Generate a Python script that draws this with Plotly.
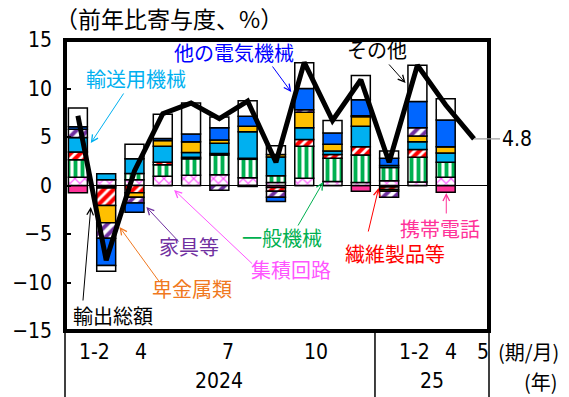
import plotly.graph_objects as go

# periods (2024/1-2 ... 2025/5); May 2025 has the total only
months = ["1-2", "3", "4", "5", "6", "7", "8", "9", "10", "11", "12", "1-2", "3", "4", "5"]
years = ["2024"] * 11 + ["25"] * 4
shown_months = ["1-2", "4", "7", "10", "1-2", "4", "5"]
shown_idx = [0, 2, 5, 8, 11, 13, 14]

# contribution to y/y change (% pt), Jan-Feb 2024 .. Apr 2025
mobile = [-0.75, -0.1, 0, 0, 0, 0, 0, -0.2, 0, 0, -0.6, -0.15, 0, -0.7]
ic = [0.85, 0.6, 0.6, 0.95, 1.05, 1.1, 0.8, 0.3, 0.75, 0.4, 0.3, 0.5, 0.35, 0.85]
general_mach = [1.8, -0.15, 0.65, 1.2, 1.7, 2.05, 1.9, 0.7, 3.3, 2.4, 2.85, 1.35, 2.55, 1.55]
textiles = [0.8, -1.8, -0.75, 0.25, 0.15, 0.15, 0.1, -0.4, 0.7, 0.4, 0.85, -0.25, 0.8, 0]
transport = [1.5, 0.6, 1.5, 1.65, 0.5, 1.05, 2.75, 1.95, 1.2, 0.35, 2.1, 0.2, 0.8, 0.95]
base_metals = [0, -1.8, -0.45, 0.6, 1.1, 0.35, 0.55, 0.25, 1.6, 0.7, 1.0, -0.2, 0.6, 0.65]
furniture = [0.85, -1.6, -0.6, 0, 0, -0.5, -0.1, -0.6, 0.25, 0, 0.1, -0.6, 0.85, 0]
other_elec = [0.25, -2.8, -0.95, 0.2, 0.8, 1.25, 1.05, -0.45, 2.2, 1.15, 1.65, 0.75, 2.7, 2.75]
others = [1.95, -0.6, 1.5, 2.5, 3.2, 1.1, 1.6, 0.9, 2.65, 1.3, 2.5, 0.75, 3.75, 2.2]
total = [7.2, -7.7, 1.5, 7.4, 8.5, 6.9, 8.7, 2.4, 12.7, 6.7, 10.9, 2.4, 12.4, 8.3, 4.8]

x = list(range(len(months)))
xb = x[:len(ic)]

JP = "Noto Sans CJK JP"
NUM = "DejaVu Sans Condensed, Noto Sans CJK JP"

fig = go.Figure()

def add_bar(name, vals, color, shape="", fg=None, size=6, solidity=0.5):
    pat = dict(shape=shape)
    if shape:
        pat.update(fgcolor=fg, bgcolor="white", size=size, solidity=solidity, fgopacity=1)
    fig.add_trace(go.Bar(
        x=xb, y=vals, name=name, width=0.67,
        marker=dict(color=color, line=dict(color="black", width=1.5), pattern=pat),
    ))

add_bar("携帯電話", mobile, "#FF3399")
add_bar("集積回路", ic, "white", "x", "#FF44FF", 7, 0.3)
add_bar("一般機械", general_mach, "white", "|", "#00B050", 7, 0.55)
add_bar("繊維製品等", textiles, "white", "/", "#FF0000", 7, 0.6)
add_bar("輸送用機械", transport, "#00B0F0")
add_bar("卑金属類", base_metals, "#FFC000")
add_bar("家具等", furniture, "white", "/", "#7030A0", 8, 0.5)
add_bar("他の電気機械", other_elec, "#0066FF")
add_bar("その他", others, "white")

fig.add_trace(go.Scatter(x=x, y=total, mode="lines", name="輸出総額",
                         line=dict(color="black", width=5)))

# labels with arrows: text centre (x, y), arrow head, arrow tail
labels = [
    ("輸送用機械", "#00B0F0", (2.07, 11.08), (0.456, 4.38), (1.65, 9.64)),
    ("他の電気機械", "#0000FF", (5.51, 13.76), (7.54, 9.64), (6.84, 12.42)),
    ("その他", "black", (10.56, 13.97), (11.58, 10.57), (10.95, 12.63)),
    ("一般機械", "#00B050", (7.23, -5.41), (8.67, 0.36), (7.75, -4.28)),
    ("繊維製品等", "#FF0000", (11.19, -7.06), (10.63, -0.26), (10.25, -4.90)),
    ("携帯電話", "#FF3399", (12.81, -4.48), (13.02, -0.77), (13.02, -3.04)),
    ("集積回路", "#FF55FF", (7.54, -8.61), (3.40, -0.46), (6.21, -8.20)),
    ("家具等", "#7030A0", (3.93, -6.24), (2.42, -2.22), (3.61, -5.93)),
    ("卑金属類", "#F07820", (4.04, -10.57), (1.47, -4.28), (2.91, -10.05)),
    ("輸出総額", "black", (1.23, -13.45), (0.456, -2.22), (0.175, -12.01)),
]
ann = []
for txt, col, tpos, head, tail in labels:
    ann.append(dict(x=tpos[0], y=tpos[1], xref="x", yref="y", text=txt, showarrow=False,
                    xanchor="center", yanchor="middle",
                    font=dict(family=JP, size=20, color=col)))
    ann.append(dict(x=head[0], y=head[1], xref="x", yref="y", ax=tail[0], ay=tail[1],
                    axref="x", ayref="y", text="", showarrow=True, arrowhead=5,
                    arrowsize=1.3, arrowwidth=1, arrowcolor=col))

# last value label
ann.append(dict(x=x[-1], y=total[-1], xref="x", yref="y", text=f"{total[-1]:.1f}",
                showarrow=True, arrowhead=0, arrowwidth=1.2, arrowcolor="#A0A0A0",
                ax=26, ay=0, xanchor="left", font=dict(family=NUM, size=21, color="black")))

# month / year labels
month_shift = [17, 7, 9, 12, 25, 5, 9]
for lab, i, s in zip(shown_months, shown_idx, month_shift):
    ann.append(dict(x=i, y=-0.072, xref="x", yref="paper", text=lab, showarrow=False,
                    xshift=s, xanchor="center", yanchor="middle",
                    font=dict(family=NUM, size=21, color="black")))
for yr in ["2024", "25"]:
    idx = [i for i, v in enumerate(years) if v == yr]
    ann.append(dict(x=(idx[0] + idx[-1]) / 2, y=-0.172, xref="x", yref="paper", text=yr,
                    showarrow=False, xanchor="center", yanchor="middle",
                    font=dict(family=NUM, size=21, color="black")))
ann.append(dict(x=1.094, y=-0.072, xref="paper", yref="paper", text="(期/月)", showarrow=False,
                xanchor="center", yanchor="middle", font=dict(family=JP, size=20, color="black")))
ann.append(dict(x=1.122, y=-0.172, xref="paper", yref="paper", text="(年)", showarrow=False,
                xanchor="center", yanchor="middle", font=dict(family=JP, size=20, color="black")))
ann.append(dict(x=0.0, y=1.076, xref="paper", yref="paper", text="（前年比寄与度、%）",
                showarrow=False, xanchor="left", yanchor="middle", xshift=-12,
                font=dict(family=JP, size=23, color="black")))

split = years.index("25") - 0.5
shapes = [
    dict(type="rect", xref="paper", yref="paper", x0=0, x1=1, y0=0, y1=1,
         line=dict(color="black", width=4), layer="above"),
    dict(type="line", xref="paper", yref="paper", x0=0, x1=0, y0=0, y1=-0.23,
         line=dict(color="black", width=1.5)),
    dict(type="line", xref="paper", yref="paper", x0=1, x1=1, y0=0, y1=-0.23,
         line=dict(color="black", width=1.5)),
    dict(type="line", xref="x", yref="paper", x0=split, x1=split, y0=0, y1=-0.23,
         line=dict(color="black", width=1.5)),
]

fig.update_layout(
    barmode="relative",
    width=569, height=397,
    margin=dict(l=62, r=80, t=40, b=66),
    plot_bgcolor="white", paper_bgcolor="white",
    showlegend=False,
    annotations=ann, shapes=shapes,
    xaxis=dict(range=[-0.456, 14.53], showticklabels=False, showgrid=False,
               zeroline=False, showline=False, ticks=""),
    yaxis=dict(range=[-15, 15], dtick=5, ticks="inside", ticklen=6, tickwidth=1.5,
               tickcolor="black", showgrid=False, zeroline=True, zerolinecolor="black",
               zerolinewidth=1.2, showline=False, ticklabelstandoff=12,
               tickfont=dict(family=NUM, size=21, color="black")),
)

fig.write_html("out.html", config={"displayModeBar": False},
               post_script="document.body.style.margin='0';")
